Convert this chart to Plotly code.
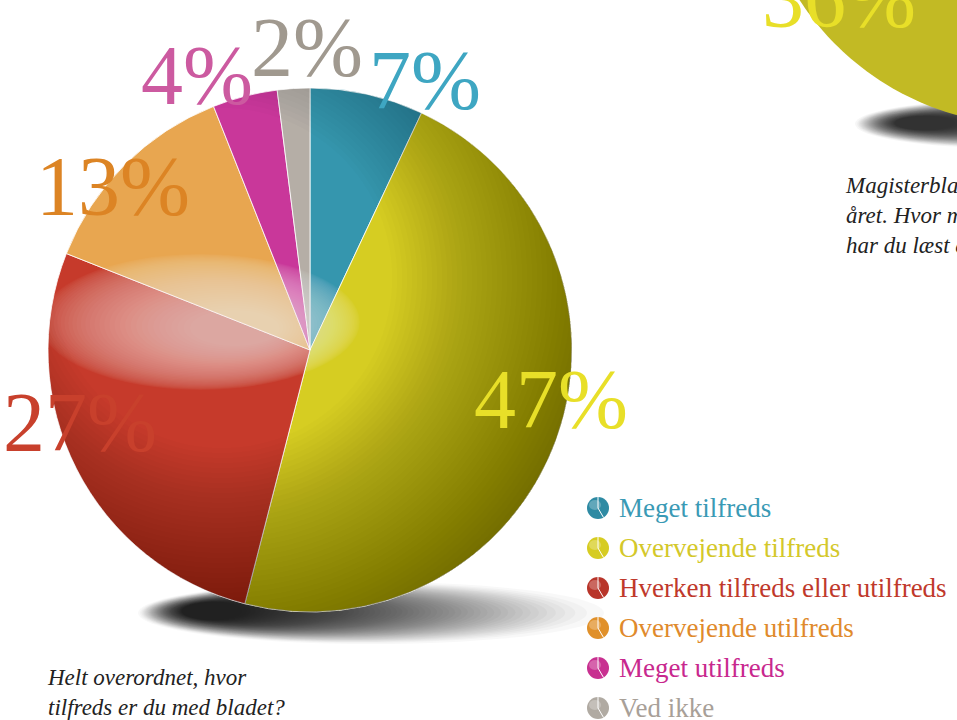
import numpy as np
import plotly.graph_objects as go

W, H = 957, 720

# ---------------- data ----------------
categories = ["Meget tilfreds", "Overvejende tilfreds", "Hverken tilfreds eller utilfreds",
              "Overvejende utilfreds", "Meget utilfreds", "Ved ikke"]
values = [7, 47, 27, 13, 4, 2]
pct_labels = ["7%", "47%", "27%", "13%", "4%", "2%"]
second_value = 36
second_label = "36%"
caption_left = "Helt overordnet, hvor<br>tilfreds er du med bladet?"
caption_right = "Magisterbladet udkommer 20 gange om<br>året. Hvor mange numre af bladet<br>har du læst eller skimmet?"

# ---------------- styles ----------------
slice_colors = ["#3596ae", "#d6cd22", "#c63a2b", "#e8a650", "#c9379a", "#b5aea6"]
label_colors = ["#3ea6c2", "#e8df28", "#c8402c", "#dc8424", "#cc5aa0", "#a0998f"]
legend_text_colors = ["#3a9ab5", "#d4c82a", "#c0392b", "#e08a2c", "#c8288e", "#a8a098"]
legend_icon_colors = ["#2e8aa3", "#d6cc22", "#b8352a", "#e0902a", "#c83090", "#b0aaa2"]
label_pos = [(425, 80), (551, 399), (80, 422), (113, 187), (197, 76), (307, 48)]
SERIF = "Liberation Serif"

CX, CY, R = 310.0, 350.0, 262.0


def X(px):
    return px / W


def Y(py):
    return 1 - py / H


def to_path(pts):
    s = "M %.5f,%.5f " % (X(pts[0][0]), Y(pts[0][1]))
    s += " ".join("L %.5f,%.5f" % (X(x), Y(y)) for x, y in pts[1:])
    return s + " Z"


def arc(cx, cy, r, a0, a1, through, n=90):
    tw = 2 * np.pi
    s = (a1 - a0) % tw
    if (through - a0) % tw < s:
        end = a0 + s
    else:
        end = a0 - (tw - s)
    a = np.linspace(a0, end, n)
    return list(zip(cx + r * np.cos(a), cy + r * np.sin(a)))


def crescent(C, Rr, L, r):
    C = np.array(C, float)
    L = np.array(L, float)
    d = np.linalg.norm(L - C)
    a = (Rr ** 2 - r ** 2 + d ** 2) / (2 * d)
    h = np.sqrt(max(Rr ** 2 - a ** 2, 0))
    ex = (L - C) / d
    perp = np.array([-ex[1], ex[0]])
    P = C + a * ex
    P1, P2 = P + h * perp, P - h * perp
    away = np.arctan2(C[1] - L[1], C[0] - L[0])
    t1 = np.arctan2(P1[1] - C[1], P1[0] - C[0])
    t2 = np.arctan2(P2[1] - C[1], P2[0] - C[0])
    arc1 = arc(C[0], C[1], Rr, t1, t2, away)
    s2 = np.arctan2(P2[1] - L[1], P2[0] - L[0])
    s1 = np.arctan2(P1[1] - L[1], P1[0] - L[0])
    arc2 = arc(L[0], L[1], r, s2, s1, away)
    return arc1 + arc2


shapes = []


def ellipse(cx, cy, rx, ry, color, op, layer="below"):
    shapes.append(dict(type="circle", xref="paper", yref="paper",
                       x0=X(cx - rx), x1=X(cx + rx), y0=Y(cy + ry), y1=Y(cy - ry),
                       fillcolor=color, opacity=op, line=dict(width=0), layer=layer))


# ---- shadows ----
N = 60
for i in range(N):
    t = (i / (N - 1)) ** 0.75
    ellipse(371 - t * (371 - 212), 613 - 2 * t, 233 - t * (233 - 30), 31 - t * (31 - 9), "black", 0.027)
N2 = 40
for i in range(N2):
    t = (i / (N2 - 1)) ** 0.8
    ellipse(1005 - t * (1005 - 925), 124 - t, 150 - t * (150 - 30), 24 - t * (24 - 7), "black", 0.034)

# ---- second pie (mostly outside the frame) ----
C2X, C2Y, R2 = 1030.0, -150.0, 275.0
mid = np.arctan2(-2 - C2Y, 839 - C2X)
half = second_value / 100 * np.pi
ang = np.linspace(mid - half, mid + half, 120)
sec = [(C2X, C2Y)] + list(zip(C2X + R2 * np.cos(ang), C2Y + R2 * np.sin(ang)))
shapes.append(dict(type="path", xref="paper", yref="paper", path=to_path(sec),
                   fillcolor="#c2ba24", line=dict(width=0), layer="above"))
for rr in range(290, 370, 8):
    pts = crescent((C2X, C2Y), R2, (800, -80), rr)
    shapes.append(dict(type="path", xref="paper", yref="paper", path=to_path(pts),
                       fillcolor="black", opacity=0.02, line=dict(width=0), layer="above"))

# ---- shading on the main pie ----
LX, LY = 222, 278
dmax = R + np.hypot(CX - LX, CY - LY) - 2
for rr in np.arange(170, dmax, 5):
    pts = crescent((CX, CY), R, (LX, LY), rr)
    shapes.append(dict(type="path", xref="paper", yref="paper", path=to_path(pts),
                       fillcolor="black", opacity=0.0135, line=dict(width=0), layer="above"))
NH = 34
for i in range(NH):
    t = (i / (NH - 1)) ** 1.4
    ellipse(200 + 35 * t, 322 + 6 * t, 160 - 115 * t, 68 - 50 * t, "white", 0.026, layer="above")

# ---- legend icons ----
LEG_X, LEG_Y0, LEG_DY, ICON_R = 598, 508, 40, 11
for i, col in enumerate(legend_icon_colors):
    yc = LEG_Y0 + i * LEG_DY
    ellipse(LEG_X, yc, ICON_R, ICON_R, col, 1.0, layer="above")
    ellipse(LEG_X - 3, yc - 3, 6, 5, "white", 0.25, layer="above")
    shapes.append(dict(type="line", xref="paper", yref="paper",
                       x0=X(LEG_X), y0=Y(yc - ICON_R), x1=X(LEG_X), y1=Y(yc),
                       line=dict(color="white", width=1), layer="above"))
    shapes.append(dict(type="line", xref="paper", yref="paper",
                       x0=X(LEG_X), y0=Y(yc), x1=X(LEG_X + 5.5), y1=Y(yc + 9.5),
                       line=dict(color="white", width=1), layer="above"))

# ---------------- figure ----------------
fig = go.Figure()
fig.add_trace(go.Pie(
    labels=categories, values=values, sort=False, direction="clockwise", rotation=0,
    marker=dict(colors=slice_colors, line=dict(color="rgba(255,255,255,0.8)", width=1)),
    textinfo="none", hoverinfo="label+percent", showlegend=False,
    domain=dict(x=[X(CX - R), X(CX + R)], y=[Y(CY + R), Y(CY - R)]),
))

annotations = []
for lab, col, (px, py) in zip(pct_labels, label_colors, label_pos):
    annotations.append(dict(x=X(px), y=Y(py), xref="paper", yref="paper", text=lab,
                            showarrow=False, xanchor="center", yanchor="middle",
                            font=dict(family=SERIF, size=84, color=col)))
annotations.append(dict(x=X(839), y=Y(-2), xref="paper", yref="paper", text=second_label,
                        showarrow=False, xanchor="center", yanchor="middle",
                        font=dict(family=SERIF, size=84, color="#e8df28")))
for i, (cat, col) in enumerate(zip(categories, legend_text_colors)):
    annotations.append(dict(x=X(617), y=Y(LEG_Y0 + i * LEG_DY), xref="paper", yref="paper",
                            text=cat, showarrow=False, xanchor="left", yanchor="middle",
                            font=dict(family=SERIF, size=27, color=col)))
annotations.append(dict(x=X(45), y=Y(692), xref="paper", yref="paper", text=caption_left,
                        showarrow=False, xanchor="left", yanchor="middle", align="left",
                        font=dict(family=SERIF, size=23, color="#222222", style="italic")))
annotations.append(dict(x=X(843), y=Y(215), xref="paper", yref="paper", text=caption_right,
                        showarrow=False, xanchor="left", yanchor="middle", align="left",
                        font=dict(family=SERIF, size=23, color="#222222", style="italic")))

fig.update_layout(
    width=W, height=H, margin=dict(l=0, r=0, t=0, b=0),
    paper_bgcolor="white", plot_bgcolor="white",
    shapes=shapes, annotations=annotations, showlegend=False,
)
fig.write_html("out.html", config={"displayModeBar": False},
               post_script="document.body.style.margin='0';document.body.style.overflow='hidden';")
